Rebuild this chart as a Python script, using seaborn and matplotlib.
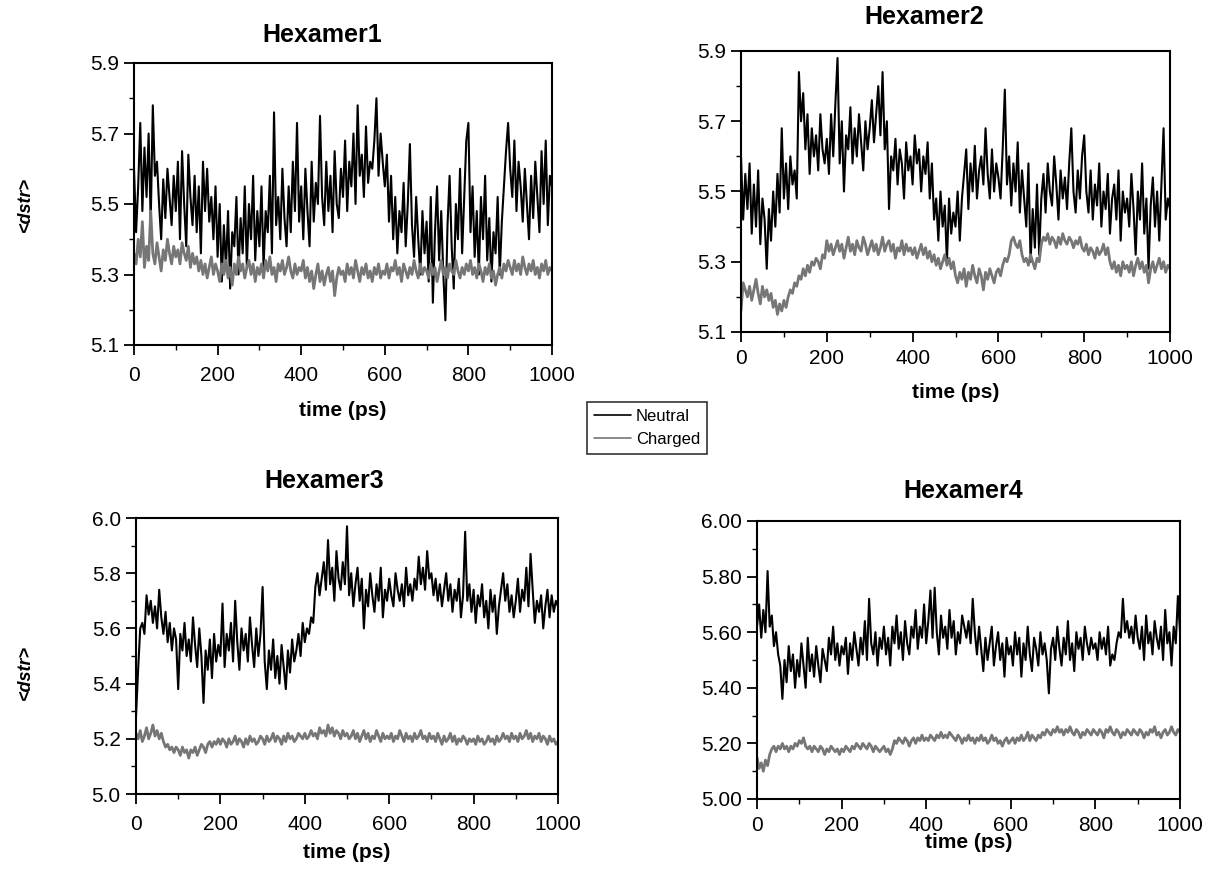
import matplotlib
matplotlib.use("Agg")
import matplotlib.pyplot as plt
import seaborn as sns
import pandas as pd
from matplotlib.ticker import MultipleLocator, FormatStrFormatter, FixedLocator
from matplotlib.lines import Line2D

sns.set_theme(style="ticks")
plt.rcParams["font.family"] = ["Liberation Sans", "DejaVu Sans"]
plt.rcParams["text.color"] = "black"
plt.rcParams["axes.labelcolor"] = "black"
plt.rcParams["xtick.color"] = "black"
plt.rcParams["ytick.color"] = "black"

# ---------------- data (time step 5 ps) ----------------
time_ps = list(range(0, 1001, 5))
series_names = ["Neutral", "Charged"]
titles = ["Hexamer1", "Hexamer2", "Hexamer3", "Hexamer4"]
yticks_h12 = [5.1, 5.3, 5.5, 5.7, 5.9]
yticks_h34 = [5.0, 5.2, 5.4, 5.6, 5.8, 6.0]
xticks = [0, 200, 400, 600, 800, 1000]

h1_neutral = [
    5.60,5.42,5.55,5.73,5.48,5.66,5.52,5.70,5.45,5.78,5.58,5.62,5.50,5.40,5.57,5.46,5.60,5.52,5.44,5.58,
    5.48,5.62,5.40,5.65,5.50,5.38,5.64,5.52,5.44,5.58,5.42,5.55,5.36,5.62,5.48,5.60,5.45,5.52,5.40,5.55,
    5.35,5.50,5.28,5.44,5.32,5.48,5.26,5.42,5.38,5.52,5.30,5.46,5.36,5.55,5.32,5.50,5.40,5.58,5.34,5.48,
    5.38,5.55,5.32,5.48,5.42,5.58,5.36,5.76,5.44,5.52,5.40,5.60,5.46,5.38,5.55,5.42,5.62,5.48,5.73,5.45,
    5.55,5.40,5.60,5.48,5.38,5.62,5.45,5.56,5.50,5.75,5.52,5.44,5.62,5.48,5.58,5.42,5.65,5.50,5.46,5.60,
    5.52,5.68,5.48,5.62,5.55,5.70,5.50,5.78,5.58,5.64,5.52,5.72,5.56,5.62,5.60,5.68,5.80,5.58,5.70,5.62,
    5.55,5.64,5.45,5.58,5.40,5.52,5.36,5.48,5.42,5.56,5.38,5.50,5.67,5.44,5.35,5.52,5.40,5.30,5.48,5.36,
    5.45,5.28,5.52,5.22,5.42,5.55,5.34,5.48,5.30,5.17,5.44,5.58,5.38,5.26,5.50,5.40,5.60,5.36,5.52,5.68,
    5.73,5.42,5.55,5.35,5.48,5.30,5.52,5.40,5.58,5.34,5.46,5.28,5.42,5.36,5.52,5.30,5.45,5.55,5.65,5.73,
    5.60,5.52,5.68,5.48,5.62,5.55,5.45,5.60,5.50,5.40,5.58,5.46,5.62,5.52,5.42,5.65,5.50,5.68,5.44,5.58,
    5.55]
h1_charged = [
    5.36,5.33,5.40,5.35,5.45,5.32,5.38,5.34,5.48,5.36,5.33,5.39,5.35,5.31,5.37,5.34,5.40,5.36,5.33,5.38,
    5.35,5.37,5.33,5.39,5.36,5.34,5.38,5.32,5.36,5.33,5.35,5.31,5.34,5.30,5.33,5.29,5.32,5.35,5.30,5.33,
    5.31,5.28,5.33,5.30,5.34,5.29,5.32,5.27,5.33,5.30,5.35,5.31,5.33,5.29,5.32,5.34,5.30,5.33,5.28,5.32,
    5.30,5.33,5.29,5.34,5.31,5.35,5.30,5.32,5.28,5.33,5.31,5.34,5.30,5.32,5.35,5.31,5.29,5.33,5.30,5.32,
    5.31,5.34,5.29,5.32,5.28,5.31,5.26,5.30,5.33,5.28,5.31,5.27,5.30,5.32,5.28,5.31,5.24,5.29,5.32,5.30,
    5.31,5.28,5.33,5.30,5.32,5.29,5.34,5.31,5.28,5.32,5.30,5.33,5.29,5.31,5.28,5.32,5.30,5.33,5.29,5.31,
    5.30,5.33,5.29,5.32,5.31,5.34,5.30,5.32,5.28,5.33,5.31,5.29,5.32,5.30,5.34,5.31,5.29,5.33,5.30,5.32,
    5.31,5.29,5.33,5.30,5.32,5.28,5.31,5.34,5.30,5.32,5.29,5.33,5.31,5.30,5.34,5.31,5.29,5.32,5.30,5.33,
    5.31,5.34,5.30,5.32,5.29,5.33,5.31,5.28,5.32,5.30,5.33,5.29,5.31,5.27,5.30,5.32,5.29,5.33,5.31,5.34,
    5.32,5.30,5.34,5.31,5.33,5.30,5.35,5.32,5.30,5.33,5.31,5.34,5.30,5.32,5.29,5.33,5.31,5.34,5.30,5.32,
    5.31]

h2_neutral = [
    5.60,5.42,5.55,5.45,5.58,5.38,5.52,5.40,5.56,5.35,5.48,5.42,5.28,5.45,5.36,5.50,5.40,5.55,5.44,5.68,
    5.48,5.58,5.45,5.60,5.52,5.56,5.48,5.84,5.70,5.78,5.62,5.72,5.55,5.68,5.60,5.66,5.56,5.72,5.62,5.58,
    5.65,5.55,5.72,5.60,5.75,5.88,5.58,5.70,5.50,5.66,5.62,5.74,5.58,5.68,5.60,5.72,5.64,5.56,5.70,5.62,
    5.68,5.76,5.64,5.72,5.80,5.66,5.84,5.62,5.70,5.45,5.60,5.56,5.65,5.52,5.62,5.58,5.48,5.64,5.56,5.60,
    5.52,5.66,5.58,5.62,5.50,5.60,5.55,5.64,5.48,5.58,5.42,5.48,5.36,5.50,5.40,5.46,5.30,5.48,5.38,5.44,
    5.40,5.50,5.36,5.48,5.55,5.62,5.45,5.58,5.50,5.63,5.48,5.56,5.60,5.52,5.68,5.55,5.48,5.62,5.50,5.58,
    5.54,5.48,5.62,5.79,5.52,5.60,5.46,5.58,5.50,5.64,5.44,5.56,5.48,5.40,5.58,5.30,5.45,5.34,5.52,5.32,
    5.48,5.55,5.44,5.58,5.50,5.46,5.60,5.52,5.42,5.56,5.48,5.54,5.45,5.58,5.68,5.50,5.44,5.56,5.48,5.60,
    5.66,5.50,5.44,5.56,5.42,5.52,5.46,5.58,5.40,5.50,5.45,5.55,5.38,5.48,5.52,5.42,5.56,5.36,5.50,5.44,
    5.48,5.40,5.55,5.45,5.32,5.50,5.42,5.58,5.38,5.48,5.28,5.46,5.54,5.40,5.50,5.36,5.52,5.68,5.42,5.48,
    5.45]
h2_charged = [
    5.16,5.24,5.22,5.20,5.23,5.19,5.22,5.25,5.21,5.18,5.23,5.20,5.22,5.19,5.21,5.17,5.19,5.15,5.18,5.16,
    5.19,5.17,5.20,5.22,5.21,5.24,5.23,5.26,5.25,5.28,5.26,5.29,5.27,5.30,5.29,5.31,5.30,5.28,5.32,5.31,
    5.36,5.33,5.35,5.32,5.34,5.36,5.33,5.35,5.31,5.34,5.37,5.33,5.35,5.32,5.36,5.34,5.33,5.37,5.35,5.32,
    5.34,5.36,5.33,5.35,5.32,5.34,5.37,5.33,5.35,5.36,5.33,5.35,5.31,5.34,5.33,5.36,5.32,5.35,5.33,5.34,
    5.32,5.34,5.31,5.33,5.35,5.32,5.34,5.31,5.33,5.30,5.32,5.29,5.31,5.28,5.30,5.32,5.29,5.31,5.28,5.30,
    5.26,5.24,5.27,5.25,5.28,5.23,5.27,5.25,5.29,5.26,5.24,5.28,5.26,5.22,5.27,5.25,5.28,5.26,5.24,5.27,
    5.28,5.26,5.29,5.31,5.30,5.32,5.36,5.37,5.35,5.34,5.36,5.32,5.30,5.31,5.29,5.32,5.30,5.28,5.31,5.30,
    5.35,5.37,5.36,5.38,5.35,5.37,5.36,5.34,5.37,5.35,5.38,5.36,5.35,5.37,5.36,5.34,5.36,5.35,5.37,5.34,
    5.33,5.35,5.32,5.34,5.33,5.31,5.34,5.32,5.33,5.35,5.32,5.34,5.30,5.28,5.30,5.27,5.29,5.26,5.30,5.28,
    5.29,5.27,5.30,5.26,5.29,5.31,5.28,5.30,5.27,5.29,5.24,5.28,5.30,5.27,5.29,5.31,5.28,5.30,5.27,5.29,
    5.28]

h3_neutral = [
    5.28,5.45,5.60,5.62,5.58,5.72,5.65,5.70,5.62,5.68,5.60,5.74,5.64,5.58,5.66,5.55,5.62,5.52,5.60,5.56,
    5.38,5.58,5.52,5.62,5.50,5.56,5.48,5.64,5.54,5.46,5.60,5.50,5.33,5.52,5.45,5.56,5.42,5.58,5.48,5.54,
    5.50,5.69,5.46,5.58,5.52,5.62,5.48,5.70,5.55,5.45,5.60,5.52,5.58,5.48,5.64,5.54,5.46,5.60,5.50,5.58,
    5.75,5.48,5.38,5.52,5.45,5.56,5.42,5.50,5.40,5.54,5.46,5.38,5.52,5.44,5.56,5.48,5.52,5.58,5.50,5.62,
    5.55,5.60,5.58,5.64,5.62,5.75,5.80,5.72,5.78,5.84,5.74,5.92,5.76,5.82,5.70,5.88,5.78,5.74,5.84,5.76,
    5.97,5.72,5.80,5.68,5.76,5.82,5.70,5.78,5.60,5.74,5.68,5.80,5.72,5.66,5.76,5.70,5.82,5.64,5.74,5.70,
    5.78,5.72,5.68,5.80,5.74,5.70,5.76,5.68,5.82,5.72,5.76,5.70,5.78,5.74,5.86,5.76,5.82,5.74,5.88,5.78,
    5.80,5.72,5.78,5.70,5.76,5.68,5.74,5.80,5.70,5.76,5.66,5.74,5.70,5.78,5.64,5.72,5.95,5.70,5.76,5.66,
    5.74,5.62,5.72,5.68,5.76,5.64,5.70,5.60,5.74,5.66,5.72,5.58,5.68,5.74,5.80,5.70,5.76,5.66,5.72,5.64,
    5.70,5.78,5.66,5.74,5.70,5.82,5.68,5.87,5.74,5.62,5.70,5.66,5.72,5.60,5.68,5.74,5.64,5.72,5.66,5.70,
    5.68]
h3_charged = [
    5.22,5.20,5.23,5.19,5.21,5.24,5.20,5.22,5.25,5.21,5.23,5.20,5.22,5.19,5.17,5.18,5.16,5.17,5.15,5.17,
    5.16,5.14,5.17,5.15,5.16,5.13,5.16,5.15,5.17,5.14,5.16,5.18,5.17,5.15,5.18,5.19,5.17,5.19,5.18,5.20,
    5.18,5.20,5.19,5.17,5.20,5.18,5.19,5.21,5.18,5.20,5.19,5.17,5.20,5.18,5.21,5.19,5.20,5.18,5.19,5.21,
    5.20,5.18,5.21,5.19,5.20,5.22,5.19,5.21,5.20,5.18,5.21,5.19,5.22,5.20,5.21,5.19,5.20,5.22,5.21,5.20,
    5.22,5.20,5.21,5.23,5.21,5.22,5.20,5.24,5.22,5.23,5.21,5.25,5.22,5.24,5.21,5.23,5.22,5.20,5.23,5.21,
    5.22,5.20,5.21,5.23,5.20,5.22,5.19,5.21,5.23,5.20,5.22,5.19,5.21,5.20,5.23,5.21,5.19,5.22,5.20,5.21,
    5.20,5.22,5.19,5.21,5.20,5.23,5.21,5.19,5.22,5.20,5.21,5.19,5.22,5.20,5.21,5.23,5.20,5.21,5.19,5.22,
    5.20,5.21,5.19,5.22,5.20,5.18,5.21,5.19,5.20,5.22,5.19,5.21,5.18,5.20,5.19,5.21,5.20,5.18,5.20,5.19,
    5.20,5.18,5.21,5.19,5.20,5.18,5.19,5.21,5.19,5.20,5.18,5.21,5.19,5.20,5.22,5.20,5.21,5.19,5.22,5.20,
    5.21,5.19,5.22,5.20,5.21,5.23,5.20,5.22,5.19,5.21,5.20,5.22,5.19,5.21,5.20,5.18,5.21,5.19,5.20,5.18,
    5.19]

h4_neutral = [
    5.62,5.70,5.58,5.68,5.60,5.82,5.62,5.66,5.55,5.60,5.52,5.48,5.36,5.50,5.42,5.55,5.46,5.52,5.40,5.50,
    5.44,5.56,5.48,5.40,5.58,5.46,5.52,5.44,5.55,5.48,5.42,5.54,5.50,5.46,5.58,5.52,5.62,5.50,5.56,5.48,
    5.55,5.52,5.58,5.45,5.56,5.50,5.60,5.54,5.48,5.58,5.52,5.64,5.50,5.72,5.56,5.52,5.60,5.48,5.58,5.54,
    5.62,5.52,5.58,5.48,5.62,5.56,5.66,5.54,5.60,5.50,5.64,5.56,5.52,5.62,5.58,5.68,5.54,5.62,5.58,5.70,
    5.56,5.64,5.75,5.58,5.76,5.60,5.52,5.66,5.58,5.62,5.54,5.68,5.58,5.64,5.52,5.60,5.56,5.66,5.62,5.58,
    5.64,5.56,5.72,5.60,5.52,5.62,5.54,5.46,5.58,5.50,5.56,5.62,5.48,5.55,5.60,5.50,5.56,5.44,5.58,5.52,
    5.55,5.48,5.60,5.52,5.58,5.44,5.56,5.50,5.62,5.52,5.46,5.58,5.54,5.48,5.60,5.52,5.56,5.50,5.38,5.54,
    5.58,5.50,5.62,5.54,5.48,5.58,5.52,5.64,5.50,5.56,5.46,5.60,5.54,5.58,5.50,5.62,5.56,5.52,5.58,5.54,
    5.56,5.50,5.60,5.54,5.58,5.52,5.62,5.48,5.52,5.50,5.56,5.60,5.58,5.72,5.60,5.64,5.58,5.62,5.56,5.66,
    5.58,5.54,5.62,5.50,5.66,5.56,5.60,5.52,5.64,5.58,5.54,5.62,5.50,5.68,5.56,5.60,5.48,5.62,5.56,5.73,
    5.60]
h4_charged = [
    5.15,5.11,5.13,5.10,5.14,5.12,5.16,5.18,5.19,5.17,5.19,5.18,5.20,5.18,5.19,5.17,5.19,5.18,5.20,5.19,
    5.21,5.20,5.22,5.19,5.18,5.19,5.17,5.19,5.18,5.17,5.19,5.18,5.16,5.18,5.17,5.19,5.18,5.17,5.18,5.16,
    5.18,5.17,5.19,5.18,5.17,5.19,5.18,5.20,5.19,5.18,5.20,5.19,5.18,5.20,5.19,5.17,5.19,5.18,5.17,5.18,
    5.19,5.17,5.18,5.16,5.18,5.21,5.20,5.22,5.21,5.20,5.22,5.21,5.19,5.21,5.22,5.20,5.22,5.21,5.23,5.21,
    5.22,5.21,5.23,5.22,5.21,5.23,5.22,5.24,5.22,5.23,5.22,5.24,5.23,5.22,5.21,5.23,5.22,5.20,5.22,5.21,
    5.23,5.21,5.22,5.20,5.22,5.21,5.23,5.21,5.22,5.20,5.21,5.23,5.21,5.22,5.20,5.21,5.19,5.21,5.22,5.20,
    5.21,5.22,5.20,5.22,5.21,5.23,5.21,5.22,5.24,5.21,5.23,5.22,5.21,5.23,5.22,5.24,5.23,5.25,5.24,5.23,
    5.25,5.24,5.26,5.24,5.25,5.23,5.25,5.24,5.26,5.24,5.23,5.25,5.24,5.22,5.24,5.23,5.25,5.24,5.23,5.25,
    5.24,5.23,5.25,5.24,5.22,5.25,5.24,5.26,5.24,5.23,5.25,5.24,5.22,5.24,5.23,5.25,5.24,5.23,5.25,5.24,
    5.23,5.25,5.24,5.22,5.24,5.23,5.25,5.24,5.26,5.23,5.24,5.22,5.24,5.25,5.23,5.24,5.26,5.24,5.23,5.25,
    5.24]

neutral_all = [h1_neutral, h2_neutral, h3_neutral, h4_neutral]
charged_all = [h1_charged, h2_charged, h3_charged, h4_charged]
for s in neutral_all + charged_all:
    assert len(s) == len(time_ps), len(s)

# ---------------- layout (pixels) ----------------
W, H = 1210, 874
fig = plt.figure(figsize=(W / 100, H / 100), dpi=100)
fig.patch.set_facecolor("white")

panel_cfg = [
    dict(box=(134, 552, 63, 345), tpos=(322, 35), xl_y=410, ylim=(5.1, 5.9), yt=yticks_h12, fmt="%.1f", ylab=205, pad=8),
    dict(box=(741, 1170, 51, 332), tpos=(924, 17), xl_y=392, ylim=(5.1, 5.9), yt=yticks_h12, fmt="%.1f", ylab=None, pad=5),
    dict(box=(136, 558, 518, 794), tpos=(324, 481), xl_y=852, ylim=(5.0, 6.0), yt=yticks_h34, fmt="%.1f", ylab=672, pad=8),
    dict(box=(757, 1180, 521, 799), tpos=(963, 491), xl_y=843, ylim=(5.0, 6.0), yt=yticks_h34, fmt="%.2f", ylab=None, pad=5),
]

palette = {"Neutral": "#000000", "Charged": "#767676"}
sizes = {"Neutral": 1.5, "Charged": 2.0}

for i, cfg in enumerate(panel_cfg):
    l, r, t, b = cfg["box"]
    ax = fig.add_axes([l / W, 1 - b / H, (r - l) / W, (b - t) / H])
    n = len(time_ps)
    df = pd.DataFrame({
        "time": time_ps + time_ps,
        "dstr": neutral_all[i] + charged_all[i],
        "series": [series_names[0]] * n + [series_names[1]] * n,
    })
    sns.lineplot(data=df, x="time", y="dstr", hue="series", hue_order=series_names,
                 size="series", sizes=sizes, size_order=series_names,
                 palette=palette, estimator=None, legend=False, ax=ax)
    ax.set_xlim(0, 1000)
    ax.set_ylim(*cfg["ylim"])
    ax.xaxis.set_major_locator(FixedLocator(xticks))
    ax.xaxis.set_minor_locator(MultipleLocator(100))
    ax.yaxis.set_major_locator(FixedLocator(cfg["yt"]))
    ax.yaxis.set_minor_locator(MultipleLocator(0.1))
    ax.yaxis.set_major_formatter(FormatStrFormatter(cfg["fmt"]))
    ax.tick_params(which="major", direction="out", length=7, width=1.3,
                   labelsize=15, colors="black", pad=4)
    ax.tick_params(axis="x", which="major", pad=cfg["pad"])
    ax.tick_params(which="minor", direction="out", length=3.5, width=1.0, colors="black")
    for sp in ax.spines.values():
        sp.set_visible(True)
        sp.set_color("black")
        sp.set_linewidth(1.5)
    ax.set_ylabel("")
    ax.set_xlabel("time (ps)", fontsize=15, fontweight="bold", color="black")
    ax.xaxis.label.set_va("center")
    ax.xaxis.set_label_coords(0.5, (b - cfg["xl_y"]) / (b - t))
    fig.text(cfg["tpos"][0] / W, 1 - cfg["tpos"][1] / H, titles[i],
             ha="center", va="center", fontsize=18, fontweight="bold", color="black")
    if cfg["ylab"] is not None:
        fig.text(25 / W, 1 - cfg["ylab"] / H, "<dstr>", rotation=90,
                 ha="center", va="center", fontsize=13, fontweight="bold",
                 fontstyle="italic", color="black")

# shared legend
handles = [Line2D([], [], color=palette[s], linewidth=1.2) for s in series_names]
leg = fig.legend(handles, series_names, loc="center",
                 bbox_to_anchor=(647 / W, 1 - 428 / H), frameon=True,
                 fancybox=False, fontsize=12, handlelength=2.2,
                 handletextpad=0.3, borderpad=0.4, labelspacing=0.5)
leg.get_frame().set_edgecolor("black")
leg.get_frame().set_linewidth(1.2)
for txt in leg.get_texts():
    txt.set_color("black")

fig.savefig("out.png", dpi=100, facecolor="white")
